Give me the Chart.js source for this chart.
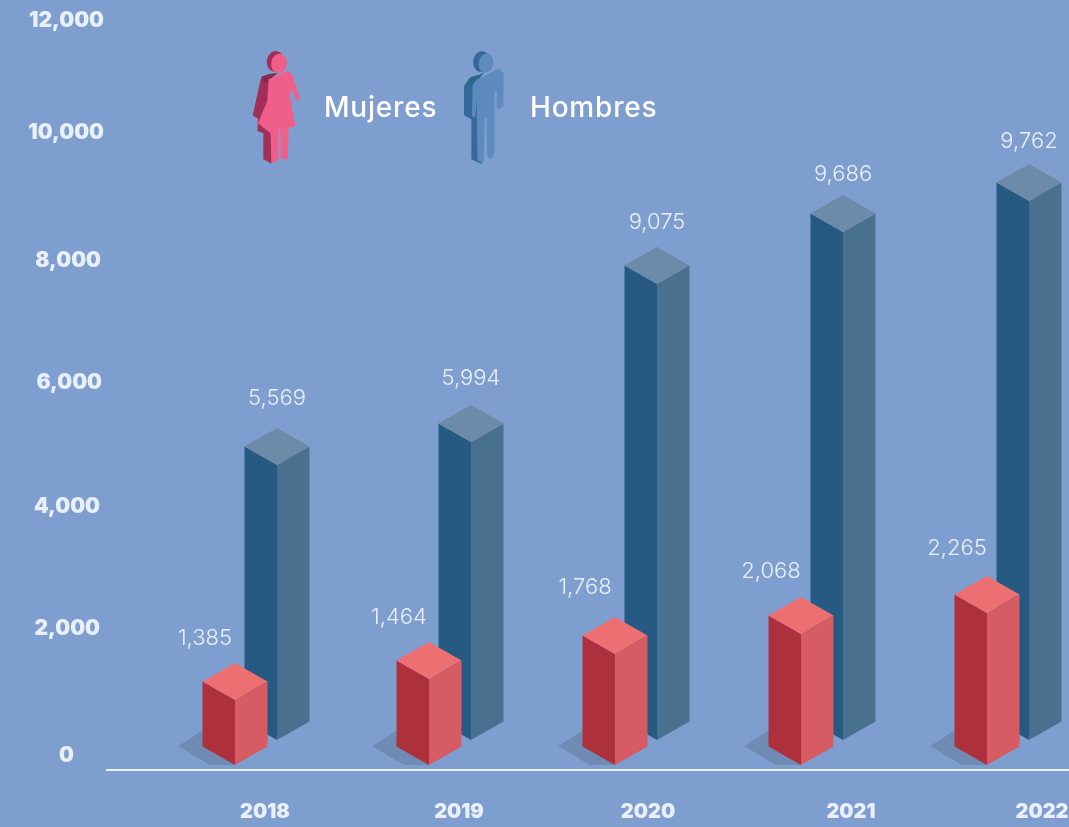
<!DOCTYPE html>
<html>
<head>
<meta charset="utf-8">
<script src="https://cdn.jsdelivr.net/npm/chart.js@4"></script>
<style>
html,body{margin:0;padding:0;background:#7f9ed0;overflow:hidden}
canvas{display:block}
</style>
</head>
<body>
<canvas id="c" width="1069" height="827"></canvas>
<script>
// ---- data ----
const years = ['2018', '2019', '2020', '2021', '2022'];
// figures printed above the bars
const womenPrinted = [1385, 1464, 1768, 2068, 2265];
const menPrinted = [5569, 5994, 9075, 9686, 9762];
// the infographic's bars are not drawn to scale: these are their tops as read against its axis
const womenBarTops = [1143, 1486, 1894, 2220, 2563];
const menBarTops = [4980, 5355, 7935, 8784, 9290];
const legendNames = ['Mujeres', 'Hombres'];

// ---- styling ----
const BG = '#7f9ed0', TXT = '#e9f0fb';
const HALF = 32.5, RISE = 18.5;
const groupNudge = [0, 6, 4, 2, 0];
const xLabelNudge = [9, 15, 16, 31, 34];
const yLabelNudge = [[-30,0],[-4,-4.5],[-4,-4],[-2,-5.5],[-3,-5],[0,-10.5],[0,0]];
const womenLabelNudge = [2, 2, -3, 1, -1];
const menLabelNudge = [-3, 0, 2, 6, 4];
const womenFaces = {front:'#ae303d', side:'#d65b62', top:'#ee6f72'};
const menFaces = {front:'#265a82', side:'#49708f', top:'#6c8ba8'};
const fmt = v => v.toLocaleString('en-US');
const noPad = s => { s.paddingTop = s.paddingBottom = s.paddingLeft = s.paddingRight = 0; };

function poly(ctx, pts, color, ox, oy) {
  ctx.fillStyle = color;
  ctx.beginPath();
  pts.forEach((p, i) => {
    const x = (ox||0) + p[0] / (ox ? 3 : 1), y = (oy||0) + p[1] / (oy ? 3 : 1);
    i ? ctx.lineTo(x, y) : ctx.moveTo(x, y);
  });
  ctx.closePath();
  ctx.fill();
}
function ell(ctx, cx, cy, rx, ry, rot, color) {
  ctx.fillStyle = color;
  ctx.beginPath();
  ctx.ellipse(cx, cy, rx, ry, rot, 0, Math.PI * 2);
  ctx.fill();
}

const isoBars = {
  id: 'isoBars',
  afterLayout(chart) {
    // the last group of the reference runs up to the picture's right edge, so the band is wider than the canvas
    const x = chart.scales.x;
    x.left = 162; x.right = 1102; x.width = 940;
    x.configure();
    chart.chartArea.left = 162; chart.chartArea.right = 1102; chart.chartArea.width = 940;
  },
  beforeDraw(chart) {
    const {ctx, scales: {x, y}} = chart;
    const y0 = y.getPixelForValue(0);
    ctx.save();
    ctx.fillStyle = '#eef3fb';
    ctx.fillRect(106, y0 - 1, chart.width - 106, 2);
    ctx.restore();
    x.getLabelItems().forEach((it, i) => {
      if (!it._n) { it.options.translation[0] += xLabelNudge[i]; it._n = 1; }
    });
    y.getLabelItems().forEach((it, i) => {
      if (!it._n) {
        it.options.translation[0] += yLabelNudge[i][0];
        it.options.translation[1] += yLabelNudge[i][1];
        it._n = 1;
      }
    });
  },
  beforeDatasetDraw(chart, args) {
    const ctx = chart.ctx, ds = chart.data.datasets[args.index];
    const f = ds.faces;
    args.meta.data.forEach((el, i) => {
      const p = el.getProps(['x', 'y', 'base'], true);
      const cx = p.x + groupNudge[i], top = p.y, bot = p.base;
      if (ds.castsShadow) {
        poly(ctx, [[cx-57,bot-19],[cx-33,bot-34],[cx,bot],[cx-25,bot]], '#6f8bb3');
      }
      poly(ctx, [[cx-HALF,top-RISE],[cx,top],[cx,bot],[cx-HALF,bot-RISE]], f.front);
      poly(ctx, [[cx,top],[cx+HALF,top-RISE],[cx+HALF,bot-RISE],[cx,bot]], f.side);
      poly(ctx, [[cx,top],[cx-HALF,top-RISE],[cx,top-2*RISE],[cx+HALF,top-RISE]], f.top);
    });
    return false;
  },
  afterDatasetsDraw(chart) {
    const ctx = chart.ctx;
    ctx.save();
    ctx.textAlign = 'center';
    ctx.textBaseline = 'middle';
    ctx.fillStyle = TXT;
    ctx.font = '300 22px Inter';
    chart.data.datasets.forEach((ds, d) => {
      chart.getDatasetMeta(d).data.forEach((el, i) => {
        const p = el.getProps(['x', 'y'], true);
        const lx = p.x + groupNudge[i] + ds.labelShift;
        ctx.fillText(fmt(ds.printed[i]), lx, p.y - 2 * RISE - 27 + ds.labelNudge[i]);
      });
    });
    // legend
    ctx.textAlign = 'left';
    ctx.fillStyle = '#ffffff';
    ctx.font = '500 28px Inter';
    ctx.letterSpacing = '0.8px';
    ctx.fillText(legendNames[0], 324, 109);
    ctx.fillText(legendNames[1], 530, 109);
    ctx.letterSpacing = '0px';
    // woman figure
    let ox = 248, oy = 46;
    ell(ctx, 275.5, 61.5, 8.8, 10.4, 0.15, '#a12f58');
    poly(ctx, [[62,85],[40,92],[14,208],[30,218],[28,255],[46,262],[46,340],[72,353],[80,100]], '#a12f58', ox, oy);
    poly(ctx, [[42,92],[64,84],[90,80],[62,104],[50,112]], '#7f2c50', ox, oy);
    ell(ctx, 279, 63.5, 7.8, 9.8, 0.15, '#ef5f8a');
    poly(ctx, [[62,100],[118,75],[132,84],[156,158],[148,168],[130,128],[126,150],[142,240],[122,246],[120,335],[108,342],[98,335],[97,250],[92,248],[92,338],[76,352],[70,350],[68,262],[30,232],[58,165]], '#ef5f8a', ox, oy);
    // man figure
    ox = 458;
    ell(ctx, 481.5, 61.5, 8.4, 10.4, 0.15, '#36699a');
    poly(ctx, [[35,95],[18,120],[18,208],[40,220],[40,340],[72,355],[76,100],[55,88]], '#36699a', ox, oy);
    poly(ctx, [[20,118],[36,96],[60,88],[80,78],[58,104],[44,126]], '#2d6a87', ox, oy);
    ell(ctx, 486, 63, 7.4, 9.6, 0.15, '#5d8bbd');
    poly(ctx, [[44,116],[58,100],[122,68],[137,80],[136,180],[122,190],[116,180],[116,135],[110,135],[110,320],[100,340],[88,332],[86,215],[80,218],[78,345],[70,352],[58,340],[56,158],[52,215],[42,210]], '#5d8bbd', ox, oy);
    ctx.restore();
  }
};

new Chart(document.getElementById('c'), {
  type: 'bar',
  plugins: [isoBars],
  data: {
    labels: years,
    datasets: [
      {label: legendNames[0], data: womenBarTops, printed: womenPrinted, base: 82, faces: womenFaces,
       castsShadow: true, labelShift: -30, labelNudge: womenLabelNudge, backgroundColor: womenFaces.front},
      {label: legendNames[1], data: menBarTops, printed: menPrinted, base: 490, faces: menFaces,
       castsShadow: false, labelShift: 0, labelNudge: menLabelNudge, backgroundColor: menFaces.front}
    ]
  },
  options: {
    responsive: false,
    animation: false,
    events: [],
    layout: {padding: {top: 35, right: 0, left: 0, bottom: 0}},
    datasets: {bar: {barThickness: 42}},
    plugins: {legend: {display: false}, tooltip: {enabled: false}, title: {display: false}},
    scales: {
      x: {
        type: 'category',
        grid: {display: false},
        border: {display: false},
        afterFit(s) { s.height = 57; noPad(s); },
        ticks: {color: TXT, font: {family: 'Inter', weight: 900, size: 20}, padding: 22, maxRotation: 0, autoSkip: false}
      },
      y: {
        min: 0, max: 12000,
        grid: {display: false},
        border: {display: false},
        afterFit(s) { s.width = 162; noPad(s); },
        ticks: {stepSize: 2000, labelOffset: -14, padding: 50, color: TXT,
                font: {family: 'Inter', weight: 900, size: 21}, callback: v => fmt(v)}
      }
    }
  }
});
</script>
</body>
</html>
